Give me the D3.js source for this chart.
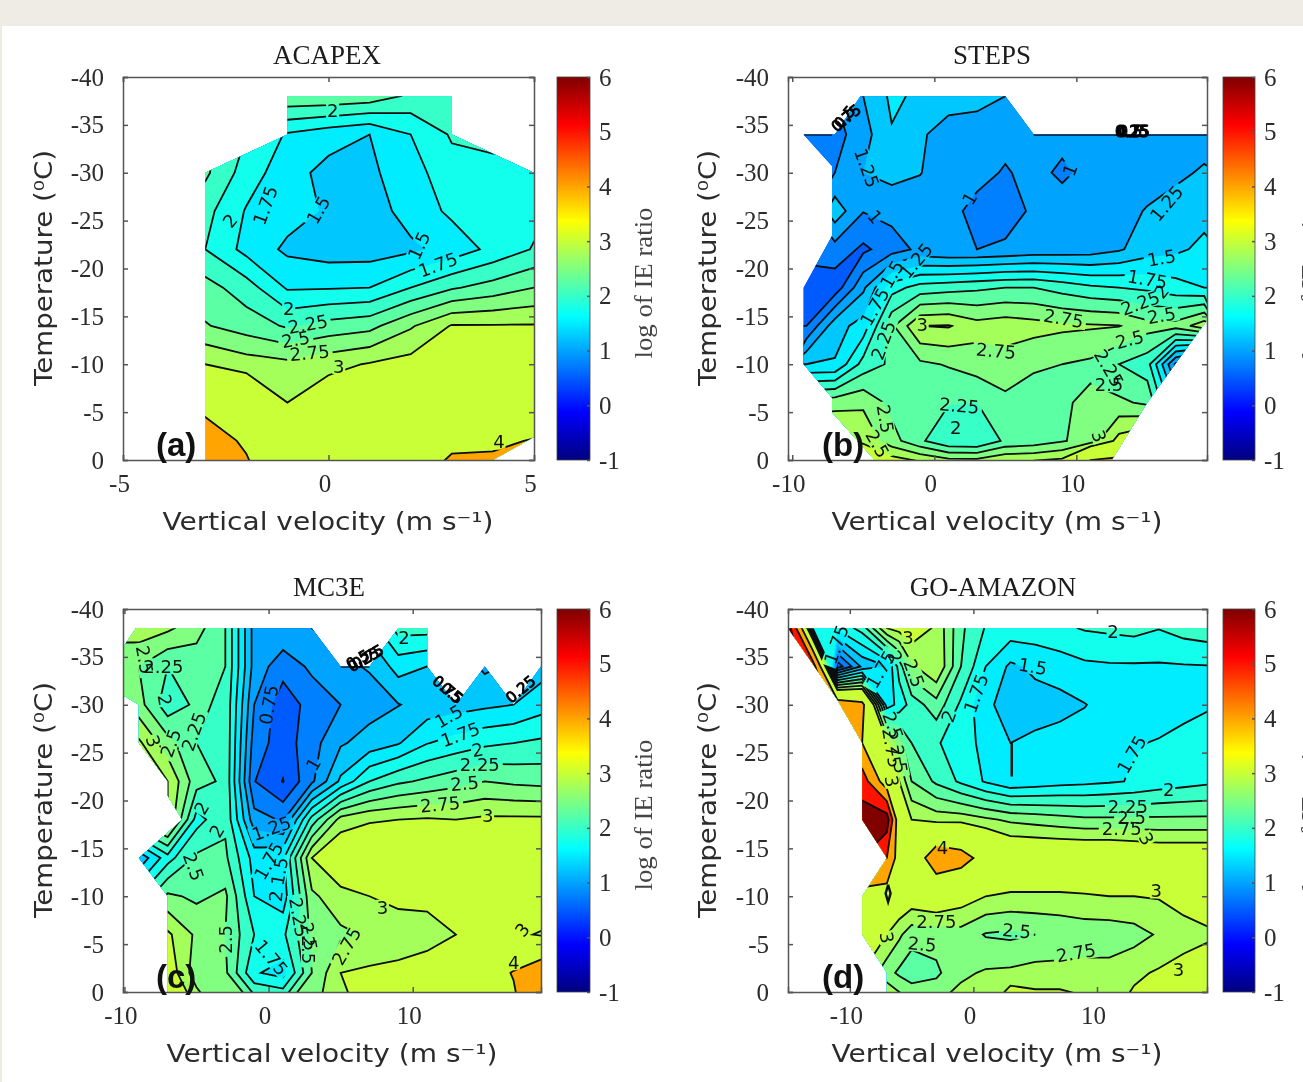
<!DOCTYPE html>
<html>
<head>
<meta charset="utf-8">
<script src="https://cdn.jsdelivr.net/npm/d3@7"></script>
<style>
  html, body { margin: 0; padding: 0; background: #fff; overflow: hidden; }
  svg { display: block; filter: blur(0.7px); }
  .axis path, .axis line { stroke: #555; stroke-width: 1.5px; }
  .axis text { font-family: "Liberation Serif", serif; font-size: 25px; fill: #2b2b2b; }
  .title { font-family: "Liberation Serif", serif; font-size: 27px; fill: #1c1c1c; text-anchor: middle; }
  .bar-label { font-family: "Liberation Serif", serif; font-size: 25px; fill: #444; text-anchor: middle; }
  .axis-label { font-family: "DejaVu Sans", sans-serif; font-size: 25px; fill: #2b2b2b; text-anchor: middle; }
  .contour-label { font-family: "DejaVu Sans", sans-serif; font-size: 18px; fill: #111; text-anchor: middle; dominant-baseline: central; }
  .blob-label { font-family: "DejaVu Sans", sans-serif; font-size: 15px; fill: #000; stroke: #000; stroke-width: 0.9px; text-anchor: middle; dominant-baseline: central; }
  .panel-letter { font-family: "Liberation Sans", sans-serif; font-size: 33px; font-weight: bold; fill: #111; }
</style>
</head>
<body>
<div id="chart"></div>
<script>
// values shared by all panels
const temperatureNodes = [-38, -34, -30, -26, -22, -18, -14, -10, -6, -2, 2];
const temperatureTicks = [-40, -35, -30, -25, -20, -15, -10, -5, 0];
const colorbarTicks = [-1, 0, 1, 2, 3, 4, 5, 6];
const contourLevels = [0.25, 0.5, 0.75, 1, 1.25, 1.5, 1.75, 2, 2.25, 2.5, 2.75, 3, 4, 5, 6];

// (a) ACAPEX
const acapexVelocity = [-3, -2, -1, 0, 1, 2, 3, 4, 5];
const acapexTicks = [-5, 0, 5];
const acapexValues = [
  [2.4, 2.4, 2.45, 2.45, 2.4, 2.2, 2.15, 2.1, 2.1],
  [2.3, 2.0, 1.72, 1.6, 1.5, 1.75, 2.03, 2.05, 2.05],
  [2.3, 1.88, 1.6, 1.42, 1.45, 1.65, 1.9, 1.95, 1.95],
  [2.08, 1.73, 1.6, 1.47, 1.38, 1.6, 1.8, 1.88, 1.92],
  [2.0, 1.67, 1.45, 1.38, 1.38, 1.45, 1.6, 1.82, 2.02],
  [2.35, 2.12, 1.72, 1.73, 1.75, 2.0, 2.22, 2.35, 2.5],
  [2.52, 2.38, 2.22, 2.35, 2.42, 2.72, 3.02, 3.02, 3.02],
  [3.0, 2.88, 2.82, 2.92, 3.02, 3.1, 3.2, 3.2, 3.2],
  [3.7, 3.4, 3.0, 3.2, 3.3, 3.3, 3.3, 3.3, 3.3],
  [4.5, 3.85, 3.05, 3.2, 3.4, 3.5, 3.8, 3.85, 4.05],
  [4.6, 4.3, 3.2, 3.3, 3.5, 3.8, 4.4, 4.4, 4.5]
];
const acapexOutline = [[-3, -30], [-1, -34], [-1, -38], [3, -38], [3, -34], [5, -30], [5, -2.4], [4, 0], [-3, 0]];
const acapexLabels = [
  ["2", 0.1, -36.5, 0], ["1.75", -1.54, -26.6, -70], ["1.5", -0.25, -26.1, -60], ["2", -2.4, -25, -50],
  ["1.5", 2.2, -22.4, -65], ["1.75", 2.66, -20.4, -20], ["2", -0.97, -15.8, 0], ["2.25", -0.5, -14.2, -10],
  ["2.5", -0.8, -12.6, -10], ["2.75", -0.46, -11.2, -5], ["3", 0.25, -9.8, 0], ["4", 4.15, -1.9, 0]
];

// (b) STEPS
const stepsVelocity = [-9, -7, -5, -3, -1, 1, 3, 5, 7, 9, 11, 13, 15, 17, 19];
const stepsTicks = [-10, 0, 10];
const stepsValues = [
  [1.0, 1.0, 1.25, 1.55, 1.45, 1.4, 1.35, 1.25, 1.1, 1.1, 1.1, 1.1, 1.1, 1.1, 1.1],
  [0.85, 0.9, 1.15, 1.48, 1.3, 1.1, 1.1, 1.05, 1.05, 1.05, 1.1, 1.1, 1.1, 1.1, 1.15],
  [0.9, 1.0, 1.25, 1.33, 1.26, 1.1, 1.05, 0.985, 1.05, 0.97, 1.05, 1.1, 1.12, 1.2, 1.28],
  [0.9, 1.4, 1.01, 1.08, 1.1, 1.05, 0.95, 0.92, 1.03, 1.08, 1.1, 1.15, 1.27, 1.35, 1.42],
  [0.85, 0.9, 0.7, 0.88, 1.06, 1.0, 1.0, 1.03, 1.08, 1.1, 1.12, 1.22, 1.38, 1.45, 1.56],
  [0.6, 0.6, 1.2, 1.9, 2.1, 2.15, 2.2, 2.25, 2.25, 2.15, 2.05, 2.0, 1.95, 1.85, 1.75],
  [0.75, 1.4, 1.6, 2.45, 3.0, 3.02, 2.85, 2.9, 2.85, 2.8, 2.78, 2.76, 2.6, 2.6, 2.9],
  [1.5, 1.52, 2.1, 2.3, 2.45, 2.52, 2.62, 2.62, 2.53, 2.5, 2.45, 2.25, 2.1, 0.95, 0.5],
  [2.6, 2.65, 2.7, 2.42, 2.4, 2.27, 2.25, 2.45, 2.4, 2.47, 2.55, 2.55, 2.45, 1.5, 1.5],
  [3.1, 3.1, 2.95, 2.6, 2.3, 2.02, 2.0, 2.3, 2.35, 2.48, 2.6, 3.1, 3.3, 3.3, 3.3],
  [3.5, 3.5, 3.6, 3.6, 3.6, 3.6, 3.6, 3.6, 3.6, 3.6, 5.4, 5.2, 4.5, 4.5, 4.5]
];
const stepsOutline = [[-9.2, -34], [-7, -34], [-5.2, -38], [5, -38], [7, -34], [19.2, -34], [19.2, -14.6], [15, -6], [12.5, 0], [-4.2, 0], [-7.2, -5], [-7.2, -6.5], [-9.2, -10], [-9.2, -18], [-7.2, -23.4], [-7.2, -30.7]];
const stepsEdges = [[[7, -34], [19.2, -34]], [[-9.2, -34], [-7.2, -34]]];
const stepsLabels = [
  ["1.25", -4.75, -30.5, 70], ["1", -4.17, -25.4, 50], ["1", 2.47, -27.3, -60], ["1", 9.55, -30.3, -70],
  ["1.25", 16.35, -26.8, -50], ["1.25", -1.28, -20.8, -50], ["1.5", 16, -21.1, -10], ["1.5", -3, -19.4, -60],
  ["1.75", 15, -18.9, 10], ["2", 16, -17.6, -50], ["2.25", 14.5, -16.4, -20], ["2.5", 16, -15.1, -10],
  ["1.75", -4.2, -16, -60], ["2.25", -3.6, -12.5, -70], ["3", -0.85, -14.2, 0], ["2.75", 9.1, -14.8, 10],
  ["2.75", 4.35, -11.4, 5], ["2.5", 13.75, -12.6, -15], ["2.25", 12.3, -9.6, 60], ["2.5", 12.3, -7.9, 0],
  ["2.25", 1.75, -5.7, 5], ["2", 1.5, -3.4, 0], ["2.5", -3.45, -4.3, 80], ["2.5", -4, -1.7, 60], ["3", 11.6, -2.5, 70]
];
const stepsBlobs = [["0.5", -6.3, -35.8, -50], ["0.75", -6.2, -35.7, -40], ["0.25", 13.9, -34.3, 0], ["0.75", 14, -34.3, 0], ["0.5", 13.8, -34.3, 0]];

// (c) MC3E
const mc3eVelocity = [-11, -9, -7, -5, -3, -1, 1, 3, 5, 7, 9, 11, 13, 15, 17, 19];
const mc3eTicks = [-10, 0, 10];
const mc3eValues = [
  [2.9, 2.9, 2.8, 2.6, 2.25, 1.15, 1.2, 1.25, 1.3, 1.6, 2.1, 2.1, 1.6, 1.4, 1.4, 1.4],
  [2.5, 2.5, 2.25, 2.35, 2.25, 1.15, 0.85, 1.05, 1.2, 1.27, 1.6, 1.5, 1.4, 1.2, 1.3, 1.4],
  [2.6, 2.6, 2.1, 2.3, 2.2, 1.0, 0.6, 0.85, 1.0, 1.15, 1.24, 1.35, 1.4, 1.45, 1.5, 1.65],
  [3.05, 3.05, 2.6, 2.25, 2.2, 0.88, 0.62, 0.9, 1.22, 1.35, 1.48, 1.74, 1.85, 1.95, 2.0, 2.05],
  [3.0, 3.0, 3.0, 2.35, 2.2, 0.76, 0.49, 0.95, 1.55, 2.0, 2.2, 2.3, 2.4, 2.5, 2.45, 2.42],
  [2.6, 2.6, 3.0, 1.9, 2.2, 1.1, 0.97, 2.1, 2.85, 2.97, 3.0, 3.03, 3.0, 3.05, 3.05, 3.05],
  [1.3, 1.3, 1.9, 2.3, 2.3, 1.65, 1.7, 3.0, 3.3, 3.3, 3.4, 3.4, 3.4, 3.4, 3.3, 3.3],
  [2, 2, 2.55, 2.45, 2.55, 1.75, 1.6, 2.7, 2.9, 3.0, 3.1, 3.1, 3.3, 3.5, 3.4, 3.4],
  [2.7, 2.7, 3.05, 2.7, 2.5, 2.0, 1.95, 2.55, 2.7, 2.78, 2.8, 2.85, 3.0, 3.3, 3.1, 2.95],
  [3.2, 3.2, 3.2, 2.6, 2.55, 1.78, 1.65, 2.5, 3.0, 3.05, 3.1, 3.2, 3.3, 3.6, 4.05, 4.6],
  [3.2, 3.2, 3.2, 3.0, 2.6, 2.6, 2.5, 2.7, 2.9, 3.1, 3.2, 3.3, 3.3, 3.5, 3.8, 4.8]
];
const mc3eOutline = [[-9.2, -38], [-10.1, -36], [-10.1, -31], [-9, -30], [-9, -26], [-7, -22], [-7, -20.5], [-6, -18], [-9, -14], [-7, -10], [-7, 0], [18.9, 0], [18.9, -34], [17, -30], [15, -34], [13, -30], [11, -34], [11, -38], [9, -38], [7, -34], [5, -34], [3, -38]];
const mc3eEdges = [[[5, -34], [7, -34]]];
const mc3eLabels = [
  ["2.25", -7.3, -34, 0], ["2.5", -8.6, -34.7, 80], ["2", -7.2, -30.5, 80], ["2.25", -5.2, -27.2, -70],
  ["2.5", -6.8, -26, -70], ["3", -8, -26.2, 70], ["0.75", 0, -30, -80], ["1", 3.1, -23.8, -60],
  ["1.5", 12.5, -28.8, -30], ["1.75", 13.3, -26.9, -20], ["2", 14.5, -25.3, -10], ["2.25", 14.65, -23.8, 0],
  ["2.5", 13.6, -21.8, -5], ["2.75", 11.9, -19.6, -5], ["3", 15.2, -18.4, 0], ["1.25", 0.2, -17.1, -20],
  ["2", -4.65, -19.2, -60], ["2", -3.6, -16.8, -60], ["1.75", 0, -13.7, -60], ["1.5", 0.75, -12.6, -80],
  ["2", 0.5, -10, -85], ["2.25", 2.1, -7.8, 80], ["2.5", 2.8, -5.8, 80], ["2.5", 2.8, -4.4, 90],
  ["2.5", -3, -5.5, -90], ["2.75", 5.4, -4.8, -60], ["1.75", 0.2, -3.6, 50], ["3", 7.9, -8.8, 0],
  ["3", 17.6, -6.5, -50], ["4", 17, -3.1, 0], ["2", 9.4, -37, 0], ["2.5", -5.2, -13.1, 70]
];
const mc3eBlobs = [
  ["0.5", 6.2, -34.7, -30], ["0.25", 6.6, -34.7, -30], ["0.75", 6.9, -35, -30],
  ["0.75", 12.4, -31.6, 40], ["0.5", 12.7, -31.2, 40], ["0.25", 17.5, -31.6, -40]
];

// (d) GO-AMAZON
const goamazonVelocity = [-15, -13, -11, -9, -7, -6, -5, -3, -1, 1, 3, 5, 7, 9, 11, 13, 15, 17, 19];
const goamazonTicks = [-10, 0, 10];
const goamazonValues = [
  [6.5, 2.0, 1.8, 2.1, 3.0, 3.1, 3.2, 2.95, 2.3, 1.98, 1.9, 1.9, 1.95, 2.02, 2.05, 2.08, 2.01, 2.1, 2.15],
  [6.5, 5.5, 0.6, 1.3, 1.5, 2.1, 2.7, 3.0, 2.25, 1.75, 1.45, 1.55, 1.62, 1.7, 1.72, 1.72, 1.72, 1.73, 1.74],
  [6.5, 6, 4.5, 4.2, 1.6, 1.85, 2.1, 2.4, 1.95, 1.55, 1.4, 1.4, 1.42, 1.49, 1.6, 1.65, 1.68, 1.7, 1.73],
  [5, 5, 4.5, 4.0, 3.1, 2.6, 2.25, 2.02, 1.9, 1.65, 1.5, 1.55, 1.6, 1.62, 1.66, 1.74, 1.76, 1.8, 1.85],
  [5.5, 5.5, 5.5, 5.5, 3.4, 3.0, 2.5, 2.2, 1.95, 1.72, 1.55, 1.6, 1.65, 1.68, 1.72, 1.77, 1.85, 1.9, 1.95],
  [6.5, 6.5, 6.5, 6.5, 6.5, 3.2, 3.0, 2.9, 2.9, 2.8, 2.7, 2.65, 2.6, 2.55, 2.55, 2.55, 2.55, 2.55, 2.55],
  [6, 6, 6, 6, 5.0, 3.5, 3.4, 4.5, 4.3, 3.7, 3.4, 3.4, 3.4, 3.4, 3.4, 3.35, 3.3, 3.3, 3.3],
  [3.4, 3.4, 3.4, 3.4, 3.5, 3.3, 3.2, 3.3, 3.15, 3.0, 2.95, 2.95, 2.95, 2.97, 3.0, 3.0, 3.02, 3.1, 3.2],
  [3, 3, 3, 3, 3.0, 2.8, 2.6, 2.6, 2.65, 2.48, 2.45, 2.5, 2.55, 2.6, 2.6, 2.65, 2.78, 2.9, 2.95],
  [3, 3, 3, 3, 2.6, 2.45, 2.35, 2.45, 2.7, 2.78, 2.8, 2.85, 2.85, 2.85, 2.85, 2.95, 3.03, 3.1, 3.2],
  [3.2, 3.2, 3.2, 3.2, 3.2, 3.05, 2.9, 2.8, 2.9, 3.0, 3.4, 3.2, 3.2, 3.1, 2.95, 3.1, 3.2, 3.2, 3.3]
];
const goamazonOutline = [[-15, -38], [18.9, -38], [18.9, 0], [-7, 0], [-7, -2], [-9, -6], [-9, -10], [-7, -14], [-9, -18], [-9, -26], [-11, -30.5]];
const goamazonEdges = [
  [[3.1, -26], [3.1, -22.5]],
  [[-6.9, -11.2], [-6.7, -10.3], [-6.9, -9.4], [-7.1, -10.3], [-6.9, -11.2]]
];
const goamazonLabels = [
  ["1.75", -11.1, -36.3, -70], ["1.75", -7.5, -33.7, -60], ["2", -6.3, -35, 60], ["3", -5.3, -37, 0],
  ["2.5", -4.8, -33.3, 70], ["2", 11.3, -37.6, 0], ["1.5", 4.8, -34, 10], ["1.75", 0.2, -31.2, -70],
  ["2", -2, -28.8, -70], ["1.75", 12.8, -24.8, -60], ["2.5", -6.5, -27.8, 70], ["2.75", -6.6, -25.5, 80],
  ["2.5", -6, -24.3, 80], ["3", -6.6, -22, 80], ["2", 15.8, -21.1, 0], ["2.25", 12.5, -19.4, 0],
  ["2.5", 12.8, -18.2, 0], ["2.75", 12, -17.1, 0], ["3", 14, -16, 60], ["4", -2.5, -15.1, 0],
  ["3", 14.8, -10.6, 0], ["2.75", -3, -7.4, 0], ["2.5", 3.5, -6.4, 5], ["3", -7, -5.7, 80],
  ["2.5", -4.15, -5, 5], ["2.75", 8.3, -4.1, -10], ["3", 16.6, -2.4, 0]
];

// jet colormap, t in 0..1
function jet(t) {
  const c = v => Math.round(255 * Math.max(0, Math.min(1, v)));
  return d3.rgb(
    c(Math.min(4 * t - 1.5, -4 * t + 4.5)),
    c(Math.min(4 * t - 0.5, -4 * t + 3.5)),
    c(Math.min(4 * t + 0.5, -4 * t + 2.5))
  ).formatHex();
}

const svg = d3.select('#chart').append('svg')
    .attr('width', 1303)
    .attr('height', 1082);

// page background of the screenshot
svg.append('rect').attr('width', 1303).attr('height', 1082).attr('fill', '#efece6');
svg.append('rect').attr('x', 2).attr('y', 26).attr('width', 1301).attr('height', 1056).attr('fill', '#fff');

class ContourPanel {
  constructor(_config, _data) {
    this.config = _config;
    this.data = _data;
    this.initVis();
  }

  initVis() {
    let vis = this;
    const cfg = vis.config;
    const d = vis.data;

    vis.x = d3.scaleLinear().domain(cfg.xDomain).range([cfg.left, cfg.right]);
    vis.y = d3.scaleLinear().domain([-40, 0]).range([cfg.top, cfg.bottom]);

    // grid index -> pixel, d3.contours puts nodes on i + 0.5
    const ix = d3.scaleLinear().domain(d.velocity.map((_, i) => i + 0.5)).range(d.velocity.map(vis.x));
    const iy = d3.scaleLinear().domain(temperatureNodes.map((_, i) => i + 0.5)).range(temperatureNodes.map(vis.y));
    const path = d3.geoPath(d3.geoTransform({
      point(px, py) { this.stream.point(ix(px), iy(py)); }
    }));

    const contours = d3.contours()
        .size([d.velocity.length, temperatureNodes.length])
        .thresholds(contourLevels)(d.values.flat());

    const colorOf = level => jet((level + 1) / 7);

    svg.append('clipPath').attr('id', `clip-${cfg.id}`)
      .append('polygon')
        .attr('points', d.outline.map(p => [vis.x(p[0]), vis.y(p[1])].join(',')).join(' '));

    // gaps in the contour lines behind their labels
    const mask = svg.append('mask').attr('id', `gaps-${cfg.id}`)
        .attr('maskUnits', 'userSpaceOnUse')
        .attr('x', 0).attr('y', 0).attr('width', 1303).attr('height', 1082);
    mask.append('rect').attr('width', 1303).attr('height', 1082).attr('fill', '#fff');
    mask.selectAll('rect.gap')
        .data(d.labels)
        .enter().append('rect')
        .attr('class', 'gap')
        .attr('x', l => -l[0].length * 5.5 - 1)
        .attr('y', -8)
        .attr('width', l => l[0].length * 11 + 2)
        .attr('height', 16)
        .attr('fill', '#000')
        .attr('transform', l => `translate(${vis.x(l[1])},${vis.y(l[2])}) rotate(${l[3]})`);

    const field = svg.append('g').attr('clip-path', `url(#clip-${cfg.id})`);

    field.append('g').selectAll('path')
        .data(contours)
        .enter().append('path')
        .attr('d', path)
        .attr('fill', c => colorOf(c.value));

    const lines = field.append('g')
        .attr('mask', `url(#gaps-${cfg.id})`)
        .attr('fill', 'none')
        .attr('stroke', '#0d0d0d')
        .attr('stroke-width', 1.8);

    lines.selectAll('path.level')
        .data(contours.filter(c => c.value >= 0.5))
        .enter().append('path')
        .attr('class', 'level')
        .attr('d', path);

    lines.selectAll('path.edge')
        .data(d.edges)
        .enter().append('path')
        .attr('class', 'edge')
        .attr('stroke-width', 2.4)
        .attr('d', d3.line().x(p => vis.x(p[0])).y(p => vis.y(p[1])));

    // axes, ticks point inwards on all four sides
    const bottomAxis = d3.axisBottom(vis.x).tickValues(d.ticks).tickSize(-5).tickPadding(14).tickFormat(t => String(t));
    const topAxis = d3.axisTop(vis.x).tickValues(d.ticks).tickSize(-5).tickFormat('');
    const leftAxis = d3.axisLeft(vis.y).tickValues(temperatureTicks).tickSize(-5).tickPadding(19).tickFormat(t => String(t));
    const rightAxis = d3.axisRight(vis.y).tickValues(temperatureTicks).tickSize(-5).tickFormat('');

    const xg = svg.append('g').attr('class', 'axis')
        .attr('transform', `translate(0,${cfg.bottom})`).call(bottomAxis);
    xg.selectAll('text').attr('dx', -4);
    svg.append('g').attr('class', 'axis').attr('transform', `translate(0,${cfg.top})`).call(topAxis);
    svg.append('g').attr('class', 'axis').attr('transform', `translate(${cfg.left},0)`).call(leftAxis);
    svg.append('g').attr('class', 'axis').attr('transform', `translate(${cfg.right},0)`).call(rightAxis);

    // contour labels
    const labelGroup = svg.append('g');
    labelGroup.selectAll('text.contour-label')
        .data(d.labels)
        .enter().append('text')
        .attr('class', 'contour-label')
        .attr('transform', l => `translate(${vis.x(l[1])},${vis.y(l[2])}) rotate(${l[3]})`)
        .text(l => l[0]);
    labelGroup.selectAll('text.blob-label')
        .data(d.blobs)
        .enter().append('text')
        .attr('class', 'blob-label')
        .attr('transform', l => `translate(${vis.x(l[1])},${vis.y(l[2])}) rotate(${l[3]})`)
        .text(l => l[0]);

    svg.append('text').attr('class', 'panel-letter')
        .attr('x', cfg.letterX).attr('y', cfg.bottom - 4)
        .text(cfg.letter);

    svg.append('text').attr('class', 'title')
        .attr('x', cfg.titleX).attr('y', cfg.top - 13.5)
        .text(cfg.title);

    svg.append('text').attr('class', 'axis-label')
        .attr('x', cfg.xLabelX).attr('y', cfg.bottom + 70)
        .attr('textLength', 331).attr('lengthAdjust', 'spacingAndGlyphs')
        .text('Vertical velocity (m s⁻¹)');

    svg.append('text').attr('class', 'axis-label')
        .attr('transform', `translate(${cfg.yLabelX},${cfg.top + 191}) rotate(-90)`)
        .attr('textLength', 236).attr('lengthAdjust', 'spacingAndGlyphs')
        .text('Temperature (⁰C)');

    vis.addColorbar();
  }

  addColorbar() {
    let vis = this;
    const cfg = vis.config;

    const gradient = svg.append('defs').append('linearGradient')
        .attr('id', `jet-${cfg.id}`)
        .attr('x1', '0%').attr('y1', '100%')
        .attr('x2', '0%').attr('y2', '0%');
    d3.range(0, 1.0001, 1 / 64).forEach(t => {
      gradient.append('stop')
          .attr('offset', (t * 100) + '%')
          .attr('stop-color', jet(t));
    });

    svg.append('rect')
        .attr('x', cfg.barX).attr('y', cfg.top)
        .attr('width', cfg.barWidth).attr('height', cfg.bottom - cfg.top)
        .attr('fill', `url(#jet-${cfg.id})`)
        .attr('stroke', '#444').attr('stroke-width', 0.8);

    const barScale = d3.scaleLinear().domain([-1, 6]).range([cfg.bottom, cfg.top]);
    const barAxis = d3.axisRight(barScale).tickValues(colorbarTicks).tickSize(-3).tickPadding(9).tickFormat(t => String(t));
    const g = svg.append('g').attr('class', 'axis')
        .attr('transform', `translate(${cfg.barX + cfg.barWidth},0)`).call(barAxis);
    g.select('.domain').remove();

    svg.append('text').attr('class', 'bar-label')
        .attr('transform', `translate(${cfg.barLabelX},${cfg.barLabelY}) rotate(-90)`)
        .attr('textLength', 151).attr('lengthAdjust', 'spacingAndGlyphs')
        .text('log of IE ratio');
  }
}

const panels = [
  {
    config: { id: 'a', title: 'ACAPEX', letter: '(a)', xDomain: [-5, 5], left: 123, right: 534, top: 77, bottom: 460,
      titleX: 327, letterX: 156, xLabelX: 328, yLabelX: 52, barX: 557, barWidth: 33, barLabelX: 652, barLabelY: 283 },
    data: { velocity: acapexVelocity, ticks: acapexTicks, values: acapexValues, outline: acapexOutline, labels: acapexLabels, edges: [], blobs: [] }
  },
  {
    config: { id: 'b', title: 'STEPS', letter: '(b)', xDomain: [-10.3, 19.2], left: 788, right: 1207, top: 77, bottom: 460,
      titleX: 992, letterX: 822, xLabelX: 997, yLabelX: 716, barX: 1223, barWidth: 32, barLabelX: 1319, barLabelY: 283 },
    data: { velocity: stepsVelocity, ticks: stepsTicks, values: stepsValues, outline: stepsOutline, labels: stepsLabels, edges: stepsEdges, blobs: stepsBlobs }
  },
  {
    config: { id: 'c', title: 'MC3E', letter: '(c)', xDomain: [-10.1, 18.9], left: 123, right: 541, top: 609, bottom: 992,
      titleX: 329, letterX: 156, xLabelX: 332, yLabelX: 52, barX: 557, barWidth: 33, barLabelX: 652, barLabelY: 815 },
    data: { velocity: mc3eVelocity, ticks: mc3eTicks, values: mc3eValues, outline: mc3eOutline, labels: mc3eLabels, edges: mc3eEdges, blobs: mc3eBlobs }
  },
  {
    config: { id: 'd', title: 'GO-AMAZON', letter: '(d)', xDomain: [-15, 18.9], left: 788, right: 1207, top: 609, bottom: 992,
      titleX: 993, letterX: 822, xLabelX: 997, yLabelX: 716, barX: 1223, barWidth: 32, barLabelX: 1319, barLabelY: 815 },
    data: { velocity: goamazonVelocity, ticks: goamazonTicks, values: goamazonValues, outline: goamazonOutline, labels: goamazonLabels, edges: goamazonEdges, blobs: [] }
  }
];

panels.forEach(p => new ContourPanel(p.config, p.data));
</script>
</body>
</html>
